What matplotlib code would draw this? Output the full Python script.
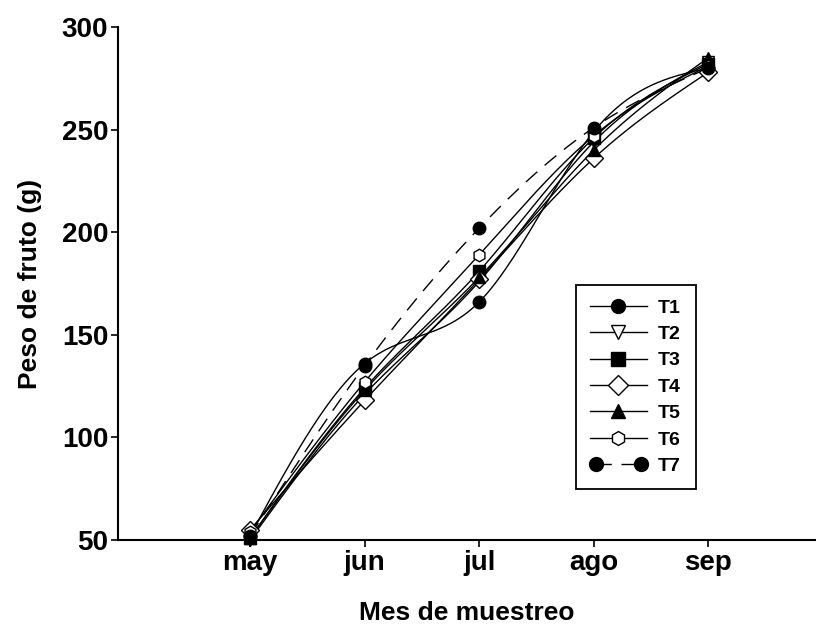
import numpy as np
import matplotlib
matplotlib.use('Agg')
import matplotlib.pyplot as plt
from matplotlib.legend_handler import HandlerLine2D

plt.rcParams['font.family'] = ['Liberation Sans', 'DejaVu Sans']
plt.rcParams['font.weight'] = 'bold'

months = ['may', 'jun', 'jul', 'ago', 'sep']
T1 = [52, 136, 166, 249, 280]
T2 = [50, 121, 176, 244, 283]
T3 = [51, 124, 181, 246, 282]
T4 = [55, 118, 177, 236, 278]
T5 = [51, 123, 178, 240, 285]
T6 = [54, 127, 189, 247, 281]
T7 = [52, 135, 202, 251, 280]

series = [
    ('T1', T1, 'o', 'black', '-'),
    ('T2', T2, 'v', 'white', '-'),
    ('T3', T3, 's', 'black', '-'),
    ('T4', T4, 'D', 'white', '-'),
    ('T5', T5, '^', 'black', '-'),
    ('T6', T6, 'h', 'white', '-'),
    ('T7', T7, 'o', 'black', (0, (11, 7))),
]


def natural_spline(x, y, n=200):
    x = np.asarray(x, float)
    y = np.asarray(y, float)
    k = len(x)
    h = np.diff(x)
    A = np.zeros((k, k))
    b = np.zeros(k)
    A[0, 0] = A[-1, -1] = 1
    for i in range(1, k - 1):
        A[i, i - 1] = h[i - 1]
        A[i, i] = 2 * (h[i - 1] + h[i])
        A[i, i + 1] = h[i]
        b[i] = 6 * ((y[i + 1] - y[i]) / h[i] - (y[i] - y[i - 1]) / h[i - 1])
    M = np.linalg.solve(A, b)
    xs = np.linspace(x[0], x[-1], n)
    idx = np.clip(np.searchsorted(x, xs) - 1, 0, k - 2)
    x0, x1 = x[idx], x[idx + 1]
    hh = x1 - x0
    t0 = x1 - xs
    t1 = xs - x0
    ys = (M[idx] * t0 ** 3 + M[idx + 1] * t1 ** 3) / (6 * hh) \
        + (y[idx] / hh - M[idx] * hh / 6) * t0 \
        + (y[idx + 1] / hh - M[idx + 1] * hh / 6) * t1
    return xs, ys


fig = plt.figure(figsize=(8.16, 6.39), dpi=100)
ax = fig.add_axes([0.1446, 0.155, 0.8554, 0.8027])

xpos = np.arange(len(months))
handles = []
for name, vals, mk, fc, ls in series:
    xs, ys = natural_spline(xpos, vals)
    ax.plot(xs, ys, color='black', lw=1.0, linestyle=ls)
    ax.plot(xpos, vals, linestyle='none', marker=mk, markersize=9,
            markerfacecolor=fc, markeredgecolor='black', markeredgewidth=1.0,
            clip_on=False, zorder=3)
    h, = ax.plot([], [], color='black', lw=1.0, linestyle=ls, marker=mk,
                 markersize=10, markerfacecolor=fc, markeredgecolor='black')
    handles.append(h)

ax.set_xlim(-1.153, 4.94)
ax.set_ylim(50, 300)
ax.set_xticks(xpos)
ax.set_xticklabels(months)
ax.set_yticks(np.arange(50, 301, 50))
for s in ['top', 'right']:
    ax.spines[s].set_visible(False)
for s in ['left', 'bottom']:
    ax.spines[s].set_linewidth(1.5)
ax.tick_params(direction='out', length=5, width=1.2, labelsize=20, pad=2)
for lab in ax.get_xticklabels() + ax.get_yticklabels():
    lab.set_fontweight('bold')
ax.set_xlabel('Mes de muestreo', fontsize=19, fontweight='bold', labelpad=18)
ax.set_ylabel('Peso de fruto (g)', fontsize=19, fontweight='bold', labelpad=14)

leg = ax.legend(handles, [s[0] for s in series], loc='upper left',
                bbox_to_anchor=(0.6555, 0.498), numpoints=1,
                handlelength=2.9, handletextpad=0.6, labelspacing=0.45,
                borderpad=0.75, borderaxespad=0, fancybox=False, framealpha=1,
                edgecolor='black', prop={'size': 14, 'weight': 'bold'},
                handler_map={handles[-1]: HandlerLine2D(numpoints=2)})
leg.get_frame().set_linewidth(1.3)

fig.savefig('out.png', dpi=100)
